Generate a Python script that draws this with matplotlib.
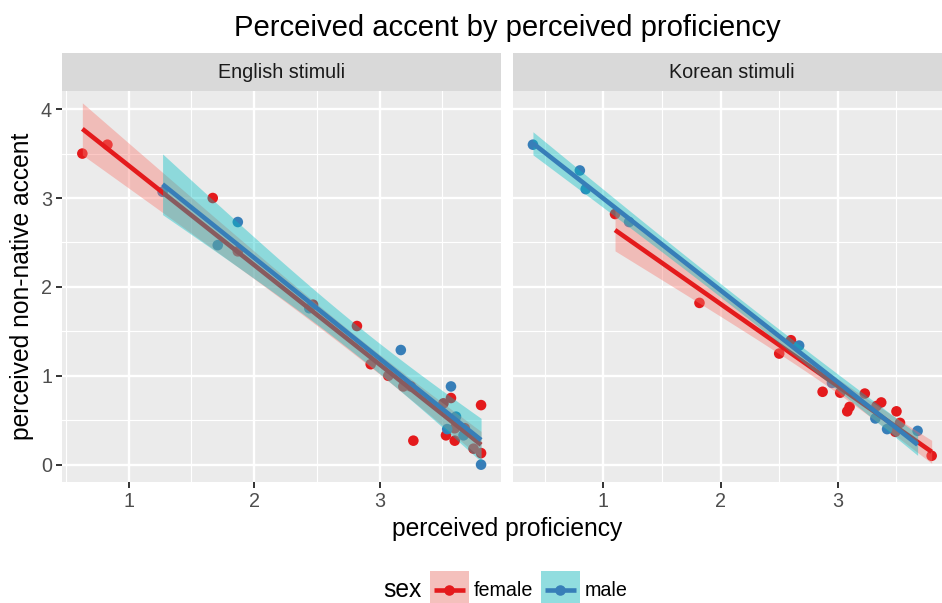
import numpy as np
import matplotlib
matplotlib.use("Agg")
import matplotlib.pyplot as plt
from matplotlib.patches import Rectangle
from matplotlib.lines import Line2D

plt.rcParams['font.family'] = ['Liberation Sans', 'DejaVu Sans']

# ---------------- data ----------------
panels = ["English stimuli", "Korean stimuli"]
sexes = ["female", "male"]

eng_female_x = [0.63, 0.83, 1.67, 1.87, 2.47, 2.82, 2.93, 3.07, 3.19, 3.25,
                3.27, 3.57, 3.51, 3.81, 3.53, 3.60, 3.60, 3.68, 3.75, 3.81]
eng_female_y = [3.50, 3.60, 3.00, 2.40, 1.80, 1.56, 1.13, 1.00, 0.88, 0.88,
                0.27, 0.75, 0.69, 0.67, 0.33, 0.27, 0.41, 0.41, 0.18, 0.13]

eng_male_x = [1.27, 1.71, 1.87, 2.44, 3.17, 3.57, 3.61, 3.54, 3.67, 3.81]
eng_male_y = [3.07, 2.47, 2.73, 1.76, 1.29, 0.88, 0.54, 0.40, 0.33, 0.00]

kor_female_x = [1.10, 1.82, 2.50, 2.60, 2.87, 3.02, 3.10, 3.08, 3.23, 3.37,
                3.33, 3.50, 3.53, 3.49, 3.80]
kor_female_y = [2.82, 1.82, 1.25, 1.40, 0.82, 0.81, 0.65, 0.60, 0.80, 0.70,
                0.66, 0.60, 0.47, 0.37, 0.10]

kor_male_x = [0.40, 0.80, 0.85, 1.22, 2.67, 2.95, 3.32, 3.42, 3.68]
kor_male_y = [3.60, 3.31, 3.10, 2.73, 1.34, 0.92, 0.52, 0.40, 0.38]

x_ticks = [1, 2, 3]
y_ticks = [0, 1, 2, 3, 4]

data = {
    ("English stimuli", "female"): (eng_female_x, eng_female_y),
    ("English stimuli", "male"): (eng_male_x, eng_male_y),
    ("Korean stimuli", "female"): (kor_female_x, kor_female_y),
    ("Korean stimuli", "male"): (kor_male_x, kor_male_y),
}

point_col = {"female": "#E41A1C", "male": "#377EB8"}
fill_col = {"female": "#F8766D", "male": "#00BFC4"}


def t975(df):
    z = 1.959964
    g1 = (z**3 + z) / 4
    g2 = (5 * z**5 + 16 * z**3 + 3 * z) / 96
    g3 = (3 * z**7 + 19 * z**5 + 17 * z**3 - 15 * z) / 384
    g4 = (79 * z**9 + 776 * z**7 + 1482 * z**5 - 1920 * z**3 - 945 * z) / 92160
    return z + g1 / df + g2 / df**2 + g3 / df**3 + g4 / df**4


def lm_band(x, y, n=80):
    x = np.asarray(x, float)
    y = np.asarray(y, float)
    b, a = np.polyfit(x, y, 1)
    xg = np.linspace(x.min(), x.max(), n)
    yhat = a + b * xg
    resid = y - (a + b * x)
    dof = len(x) - 2
    s = np.sqrt(np.sum(resid**2) / dof)
    se = s * np.sqrt(1 / len(x) + (xg - x.mean())**2 / np.sum((x - x.mean())**2))
    t = t975(dof)
    return xg, yhat, yhat - t * se, yhat + t * se


# ---------------- layout (pixels) ----------------
W, H = 942, 603
fig = plt.figure(figsize=(W / 100, H / 100), dpi=100)
fig.patch.set_facecolor("white")

panel_left = [62.4, 513.0]
panel_w = 438.6
panel_top, panel_bot = 91.0, 482.0
strip_top = 53.0

for i, pname in enumerate(panels):
    ax = fig.add_axes([panel_left[i] / W, 1 - panel_bot / H,
                       panel_w / W, (panel_bot - panel_top) / H])
    ax.set_facecolor("#EBEBEB")
    for sp in ax.spines.values():
        sp.set_visible(False)

    allx = np.concatenate([np.asarray(data[(pname, s)][0]) for s in sexes])
    lo, hi = allx.min(), allx.max()
    pad = 0.05 * (hi - lo)
    ax.set_xlim(lo - pad, hi + pad)
    ax.set_ylim(-0.195, 4.204)

    ax.set_xticks(x_ticks)
    ax.set_xticks([0.5, 1.5, 2.5, 3.5], minor=True)
    ax.set_yticks(y_ticks)
    ax.set_yticks([0.5, 1.5, 2.5, 3.5], minor=True)
    ax.set_axisbelow(True)
    ax.grid(which="major", color="white", lw=1.7)
    ax.grid(which="minor", color="white", lw=0.85)
    ax.tick_params(which="major", length=4.4, width=1.4, color="#333333",
                   labelcolor="#4D4D4D", labelsize=14.2, pad=3)
    ax.tick_params(which="minor", length=0)
    if i == 1:
        ax.tick_params(axis="y", which="major", length=0, labelleft=False)

    z = 2
    for s in sexes:
        x, y = data[(pname, s)]
        ax.scatter(x, y, s=58, color=point_col[s], edgecolors="none", zorder=z)
    z = 3
    for s in sexes:
        x, y = data[(pname, s)]
        xg, yh, ylo, yhi = lm_band(x, y)
        ax.fill_between(xg, ylo, yhi, color=fill_col[s], alpha=0.4,
                        linewidth=0, zorder=z)
        ax.plot(xg, yh, color=point_col[s], lw=3.3, zorder=z + 1,
                solid_capstyle="butt")
        z += 2

    # strip
    sax = fig.add_axes([panel_left[i] / W, 1 - panel_top / H,
                        panel_w / W, (panel_top - strip_top) / H])
    sax.set_facecolor("#D9D9D9")
    sax.set_xticks([])
    sax.set_yticks([])
    for sp in sax.spines.values():
        sp.set_visible(False)
    sax.text(0.5, 0.5, pname, ha="center", va="center", fontsize=14.2,
             color="#1A1A1A", transform=sax.transAxes)

# ---------------- titles ----------------
cx = (panel_left[0] + panel_left[1] + panel_w) / 2
fig.text(cx / W, 1 - 28 / H, "Perceived accent by perceived proficiency",
         ha="center", va="center", fontsize=21.1, color="black")
fig.text(cx / W, 1 - 529 / H, "perceived proficiency",
         ha="center", va="center", fontsize=17.7, color="black")
fig.text(22 / W, 1 - ((panel_top + panel_bot) / 2) / H,
         "perceived non-native accent", rotation=90,
         ha="center", va="center", fontsize=17.7, color="black")

# ---------------- legend ----------------
lax = fig.add_axes([0, 0, 1, 1], facecolor="none")
lax.set_xlim(0, W)
lax.set_ylim(H, 0)
lax.axis("off")
ky = 590.3
key = 38.6
lax.text(383, ky, "sex", ha="left", va="center", fontsize=17.7, color="black")
key_x = {"female": 430.0, "male": 541.0}
for s in sexes:
    x0 = key_x[s]
    lax.add_patch(Rectangle((x0, ky - key / 2), key, key, facecolor="#F2F2F2",
                            edgecolor="none"))
    lax.add_patch(Rectangle((x0, ky - key / 2), key, key, facecolor=fill_col[s],
                            alpha=0.4, edgecolor="none"))
    lax.add_line(Line2D([x0 + 3.5, x0 + key - 3.5], [ky, ky], color=point_col[s],
                        lw=3.3, solid_capstyle="butt"))
    lax.plot([x0 + key / 2], [ky], "o", ms=7.6, color=point_col[s], mec="none")
    lax.text(x0 + key + 5.5, ky, s, ha="left", va="center", fontsize=14.2,
             color="black")

fig.savefig("out.png", dpi=100)
